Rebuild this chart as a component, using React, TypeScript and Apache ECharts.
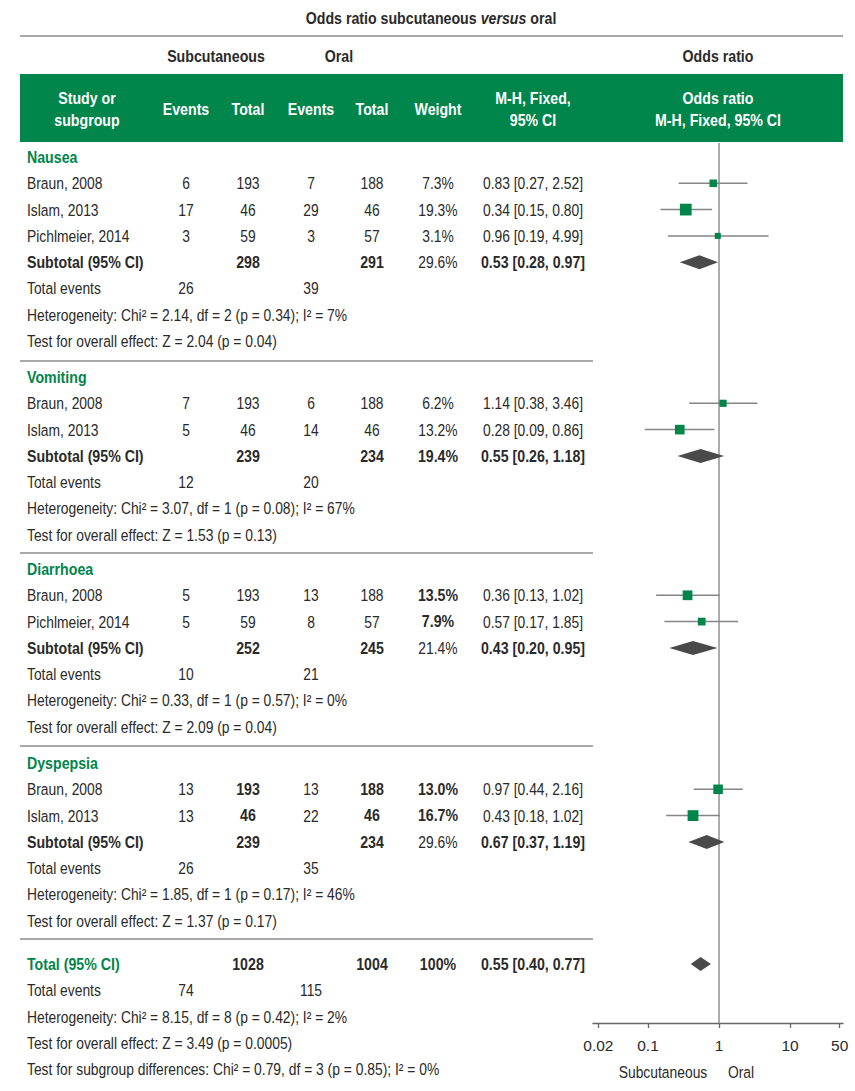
import React, { useEffect, useRef } from "react";
import * as echarts from "echarts";

// ---------- data ----------
const groupNames = ["Nausea", "Vomiting", "Diarrhoea", "Dyspepsia"];
const studyGroup = [0, 0, 0, 1, 1, 2, 2, 3, 3];
const studyNames = ["Braun, 2008", "Islam, 2013", "Pichlmeier, 2014", "Braun, 2008", "Islam, 2013", "Braun, 2008", "Pichlmeier, 2014", "Braun, 2008", "Islam, 2013"];
const scEvents = [6, 17, 3, 7, 5, 5, 5, 13, 13];
const scTotal = [193, 46, 59, 193, 46, 193, 59, 193, 46];
const oralEvents = [7, 29, 3, 6, 14, 13, 8, 13, 22];
const oralTotal = [188, 46, 57, 188, 46, 188, 57, 188, 46];
const weights = [7.3, 19.3, 3.1, 6.2, 13.2, 13.5, 7.9, 13.0, 16.7];
const oddsRatio = [0.83, 0.34, 0.96, 1.14, 0.28, 0.36, 0.57, 0.97, 0.43];
const ciLow = [0.27, 0.15, 0.19, 0.38, 0.09, 0.13, 0.17, 0.44, 0.18];
const ciHigh = [2.52, 0.8, 4.99, 3.46, 0.86, 1.02, 1.85, 2.16, 1.02];

const subScTotal = [298, 239, 252, 239];
const subOralTotal = [291, 234, 245, 234];
const subWeight = [29.6, 19.4, 21.4, 29.6];
const subOR = [0.53, 0.55, 0.43, 0.67];
const subLow = [0.28, 0.26, 0.2, 0.37];
const subHigh = [0.97, 1.18, 0.95, 1.19];
const subScEvents = [26, 12, 10, 26];
const subOralEvents = [39, 20, 21, 35];
const hetChi = ["2.14", "3.07", "0.33", "1.85"];
const hetDf = [2, 1, 1, 1];
const hetP = ["0.34", "0.08", "0.57", "0.17"];
const hetI2 = [7, 67, 0, 46];
const zVal = ["2.04", "1.53", "2.09", "1.37"];
const zP = ["0.04", "0.13", "0.04", "0.17"];

const totalSc = 1028;
const totalOral = 1004;
const totalOR = 0.55;
const totalLow = 0.4;
const totalHigh = 0.77;
const totalScEvents = 74;
const totalOralEvents = 115;
const totalHet = "Heterogeneity: Chi² = 8.15, df = 8 (p = 0.42); I² = 2%";
const totalTest = "Test for overall effect: Z = 3.49 (p = 0.0005)";
const subgroupTest = "Test for subgroup differences: Chi² = 0.79, df = 3 (p = 0.85); I² = 0%";

const tickValues = [0.02, 0.1, 1, 10, 50];

// ---------- styles / layout ----------
const FONT = '"Liberation Sans", Arial, sans-serif';
const GREEN = "#00854a";
const TXT = "#2a2a2a";
const GRAY = "#8c8c8c";
const FS = 16.5;
const SX_REG = 0.84;
const SX_BOLD = 0.86;
const ROW = 26.3;
const groupTop = [157, 377, 569, 763];
const sepY = [361, 553, 746, 939];
const totalTop = 964;
const AXIS_Y = 1023;
const COL = { label: 27, ev1: 186, tot1: 248, ev2: 311, tot2: 372, weight: 438, ci: 533 };
// bold flags (style only)
const boldStudyWeight = [false, false, false, false, false, true, true, true, true];
const boldStudyTotals = [false, false, false, false, false, false, false, true, true];
const boldSubWeight = [false, true, false, false];

const fmtCI = (o: number, l: number, h: number) => `${o.toFixed(2)} [${l.toFixed(2)}, ${h.toFixed(2)}]`;

function txt(x: number, y: number, text: string, opt: any = {}) {
  return {
    type: "text",
    silent: true,
    x,
    y,
    scaleX: opt.bold ? SX_BOLD : SX_REG,
    style: {
      x: 0,
      y: 0,
      text,
      fill: opt.fill || TXT,
      font: `${opt.bold ? "bold " : ""}${opt.size || FS}px ${FONT}`,
      textAlign: opt.align || "center",
      textVerticalAlign: "middle",
    },
  };
}
function hline(y: number, x1: number, x2: number) {
  return {
    type: "line",
    silent: true,
    shape: { x1, y1: y, x2, y2: y },
    style: { stroke: GRAY, lineWidth: 1.5 },
  };
}

export default function App() {
  const ref = useRef<HTMLDivElement>(null);
  useEffect(() => {
    if (!ref.current) return;
    const chart = echarts.init(ref.current, null, { renderer: "svg" });
    const L = Math.log10;

    const g: any[] = [];
    // title
    g.push({
      type: "text",
      silent: true,
      x: 431,
      y: 18,
      scaleX: SX_BOLD,
      style: {
        x: 0,
        y: 0,
        text: "{a|Odds ratio subcutaneous }{b|versus}{a| oral}",
        textAlign: "center",
        textVerticalAlign: "middle",
        rich: {
          a: { font: `bold ${FS}px ${FONT}`, fill: TXT },
          b: { font: `italic bold ${FS}px ${FONT}`, fill: TXT },
        },
      },
    });
    g.push(hline(36, 20, 843));
    g.push(txt(216, 56, "Subcutaneous", { bold: true }));
    g.push(txt(339, 56, "Oral", { bold: true }));
    g.push(txt(718, 56, "Odds ratio", { bold: true }));
    g.push({ type: "rect", silent: true, shape: { x: 20, y: 74, width: 823, height: 68 }, style: { fill: GREEN } });
    const W = { bold: true, fill: "#ffffff" };
    g.push(txt(87, 98, "Study or", W));
    g.push(txt(87, 120, "subgroup", W));
    g.push(txt(COL.ev1, 109, "Events", W));
    g.push(txt(COL.tot1, 109, "Total", W));
    g.push(txt(COL.ev2, 109, "Events", W));
    g.push(txt(COL.tot2, 109, "Total", W));
    g.push(txt(COL.weight, 109, "Weight", W));
    g.push(txt(COL.ci, 98, "M-H, Fixed,", W));
    g.push(txt(COL.ci, 120, "95% CI", W));
    g.push(txt(718, 98, "Odds ratio", W));
    g.push(txt(718, 120, "M-H, Fixed, 95% CI", W));

    const studyPts: any[] = [];
    const diamondPts: any[] = [];

    groupNames.forEach((name, gi) => {
      const top = groupTop[gi];
      g.push(txt(COL.label, top, name, { bold: true, fill: GREEN, align: "left" }));
      const idx = studyGroup.map((v, i) => (v === gi ? i : -1)).filter((i) => i >= 0);
      idx.forEach((i, k) => {
        const y = top + ROW * (k + 1);
        g.push(txt(COL.label, y, studyNames[i], { align: "left" }));
        g.push(txt(COL.ev1, y, String(scEvents[i])));
        g.push(txt(COL.tot1, y, String(scTotal[i]), { bold: boldStudyTotals[i] }));
        g.push(txt(COL.ev2, y, String(oralEvents[i])));
        g.push(txt(COL.tot2, y, String(oralTotal[i]), { bold: boldStudyTotals[i] }));
        g.push(txt(COL.weight, y, weights[i].toFixed(1) + "%", { bold: boldStudyWeight[i] }));
        g.push(txt(COL.ci, y, fmtCI(oddsRatio[i], ciLow[i], ciHigh[i])));
        studyPts.push([L(oddsRatio[i]), L(ciLow[i]), L(ciHigh[i]), y, weights[i]]);
      });
      const n = idx.length;
      const ys = top + ROW * (n + 1);
      g.push(txt(COL.label, ys, "Subtotal (95% CI)", { bold: true, align: "left" }));
      g.push(txt(COL.tot1, ys, String(subScTotal[gi]), { bold: true }));
      g.push(txt(COL.tot2, ys, String(subOralTotal[gi]), { bold: true }));
      g.push(txt(COL.weight, ys, subWeight[gi].toFixed(1) + "%", { bold: boldSubWeight[gi] }));
      g.push(txt(COL.ci, ys, fmtCI(subOR[gi], subLow[gi], subHigh[gi]), { bold: true }));
      diamondPts.push([L(subOR[gi]), L(subLow[gi]), L(subHigh[gi]), ys]);
      const yt = top + ROW * (n + 2);
      g.push(txt(COL.label, yt, "Total events", { align: "left" }));
      g.push(txt(COL.ev1, yt, String(subScEvents[gi])));
      g.push(txt(COL.ev2, yt, String(subOralEvents[gi])));
      g.push(
        txt(COL.label, top + ROW * (n + 3), `Heterogeneity: Chi² = ${hetChi[gi]}, df = ${hetDf[gi]} (p = ${hetP[gi]}); I² = ${hetI2[gi]}%`, { align: "left" })
      );
      g.push(txt(COL.label, top + ROW * (n + 4), `Test for overall effect: Z = ${zVal[gi]} (p = ${zP[gi]})`, { align: "left" }));
      g.push(hline(sepY[gi], 20, 593));
    });

    // overall total
    g.push(txt(COL.label, totalTop, "Total (95% CI)", { bold: true, fill: GREEN, align: "left" }));
    g.push(txt(COL.tot1, totalTop, String(totalSc), { bold: true }));
    g.push(txt(COL.tot2, totalTop, String(totalOral), { bold: true }));
    g.push(txt(COL.weight, totalTop, "100%", { bold: true }));
    g.push(txt(COL.ci, totalTop, fmtCI(totalOR, totalLow, totalHigh), { bold: true }));
    diamondPts.push([L(totalOR), L(totalLow), L(totalHigh), totalTop]);
    g.push(txt(COL.label, totalTop + ROW, "Total events", { align: "left" }));
    g.push(txt(COL.ev1, totalTop + ROW, String(totalScEvents)));
    g.push(txt(COL.ev2, totalTop + ROW, String(totalOralEvents)));
    g.push(txt(COL.label, totalTop + ROW * 2, totalHet, { align: "left" }));
    g.push(txt(COL.label, totalTop + ROW * 3, totalTest, { align: "left" }));
    g.push(txt(COL.label, totalTop + ROW * 4, subgroupTest, { align: "left" }));

    // axis captions
    g.push(txt(663, 1072, "Subcutaneous"));
    g.push(txt(741, 1072, "Oral"));

    const option: any = {
      animation: false,
      backgroundColor: "#ffffff",
      grid: { left: 593, top: 0, width: 250, height: AXIS_Y },
      xAxis: {
        type: "value",
        position: "bottom",
        min: -1.775,
        max: 1.746,
        axisLine: { onZero: false, lineStyle: { color: "#666", width: 1.3 } },
        axisTick: { customValues: tickValues.map(L), length: 5, lineStyle: { color: "#666", width: 1.3 } },
        axisLabel: {
          customValues: tickValues.map(L),
          formatter: (v: number) => String(+Math.pow(10, v).toPrecision(2)),
          color: TXT,
          fontSize: 15.5,
          fontFamily: FONT,
          margin: 14,
        },
        splitLine: { show: false },
      },
      yAxis: { type: "value", min: 0, max: AXIS_Y, inverse: true, show: false },
      series: [
        {
          type: "custom",
          z: 1,
          silent: true,
          data: [[0, 143, AXIS_Y]],
          encode: { x: 0, y: 1 },
          renderItem: (params: any, api: any) => {
            const a = api.coord([api.value(0), api.value(1)]);
            const b = api.coord([api.value(0), api.value(2)]);
            return { type: "line", shape: { x1: a[0], y1: a[1], x2: b[0], y2: b[1] }, style: { stroke: "#999", lineWidth: 1.6 } };
          },
        },
        {
          type: "custom",
          z: 2,
          silent: true,
          data: studyPts,
          encode: { x: [0, 1, 2], y: 3 },
          renderItem: (params: any, api: any) => {
            const y = api.value(3);
            const c = api.coord([api.value(0), y]);
            const lo = api.coord([api.value(1), y]);
            const hi = api.coord([api.value(2), y]);
            const s = 5 + 0.35 * api.value(4);
            return {
              type: "group",
              children: [
                { type: "line", shape: { x1: lo[0], y1: lo[1], x2: hi[0], y2: hi[1] }, style: { stroke: "#858585", lineWidth: 1.5 } },
                { type: "rect", shape: { x: c[0] - s / 2, y: c[1] - s / 2, width: s, height: s }, style: { fill: GREEN } },
              ],
            };
          },
        },
        {
          type: "custom",
          z: 3,
          silent: true,
          data: diamondPts,
          encode: { x: [0, 1, 2], y: 3 },
          renderItem: (params: any, api: any) => {
            const y = api.value(3);
            const c = api.coord([api.value(0), y]);
            const lo = api.coord([api.value(1), y]);
            const hi = api.coord([api.value(2), y]);
            return {
              type: "polygon",
              shape: { points: [[lo[0], c[1]], [c[0], c[1] - 7], [hi[0], c[1]], [c[0], c[1] + 7]] },
              style: { fill: "#4a4a4a" },
            };
          },
        },
      ],
      graphic: g,
    };
    chart.setOption(option);
    return () => chart.dispose();
  }, []);
  return <div ref={ref} style={{ position: "absolute", left: 0, top: 0, width: 855, height: 1091 }} />;
}
